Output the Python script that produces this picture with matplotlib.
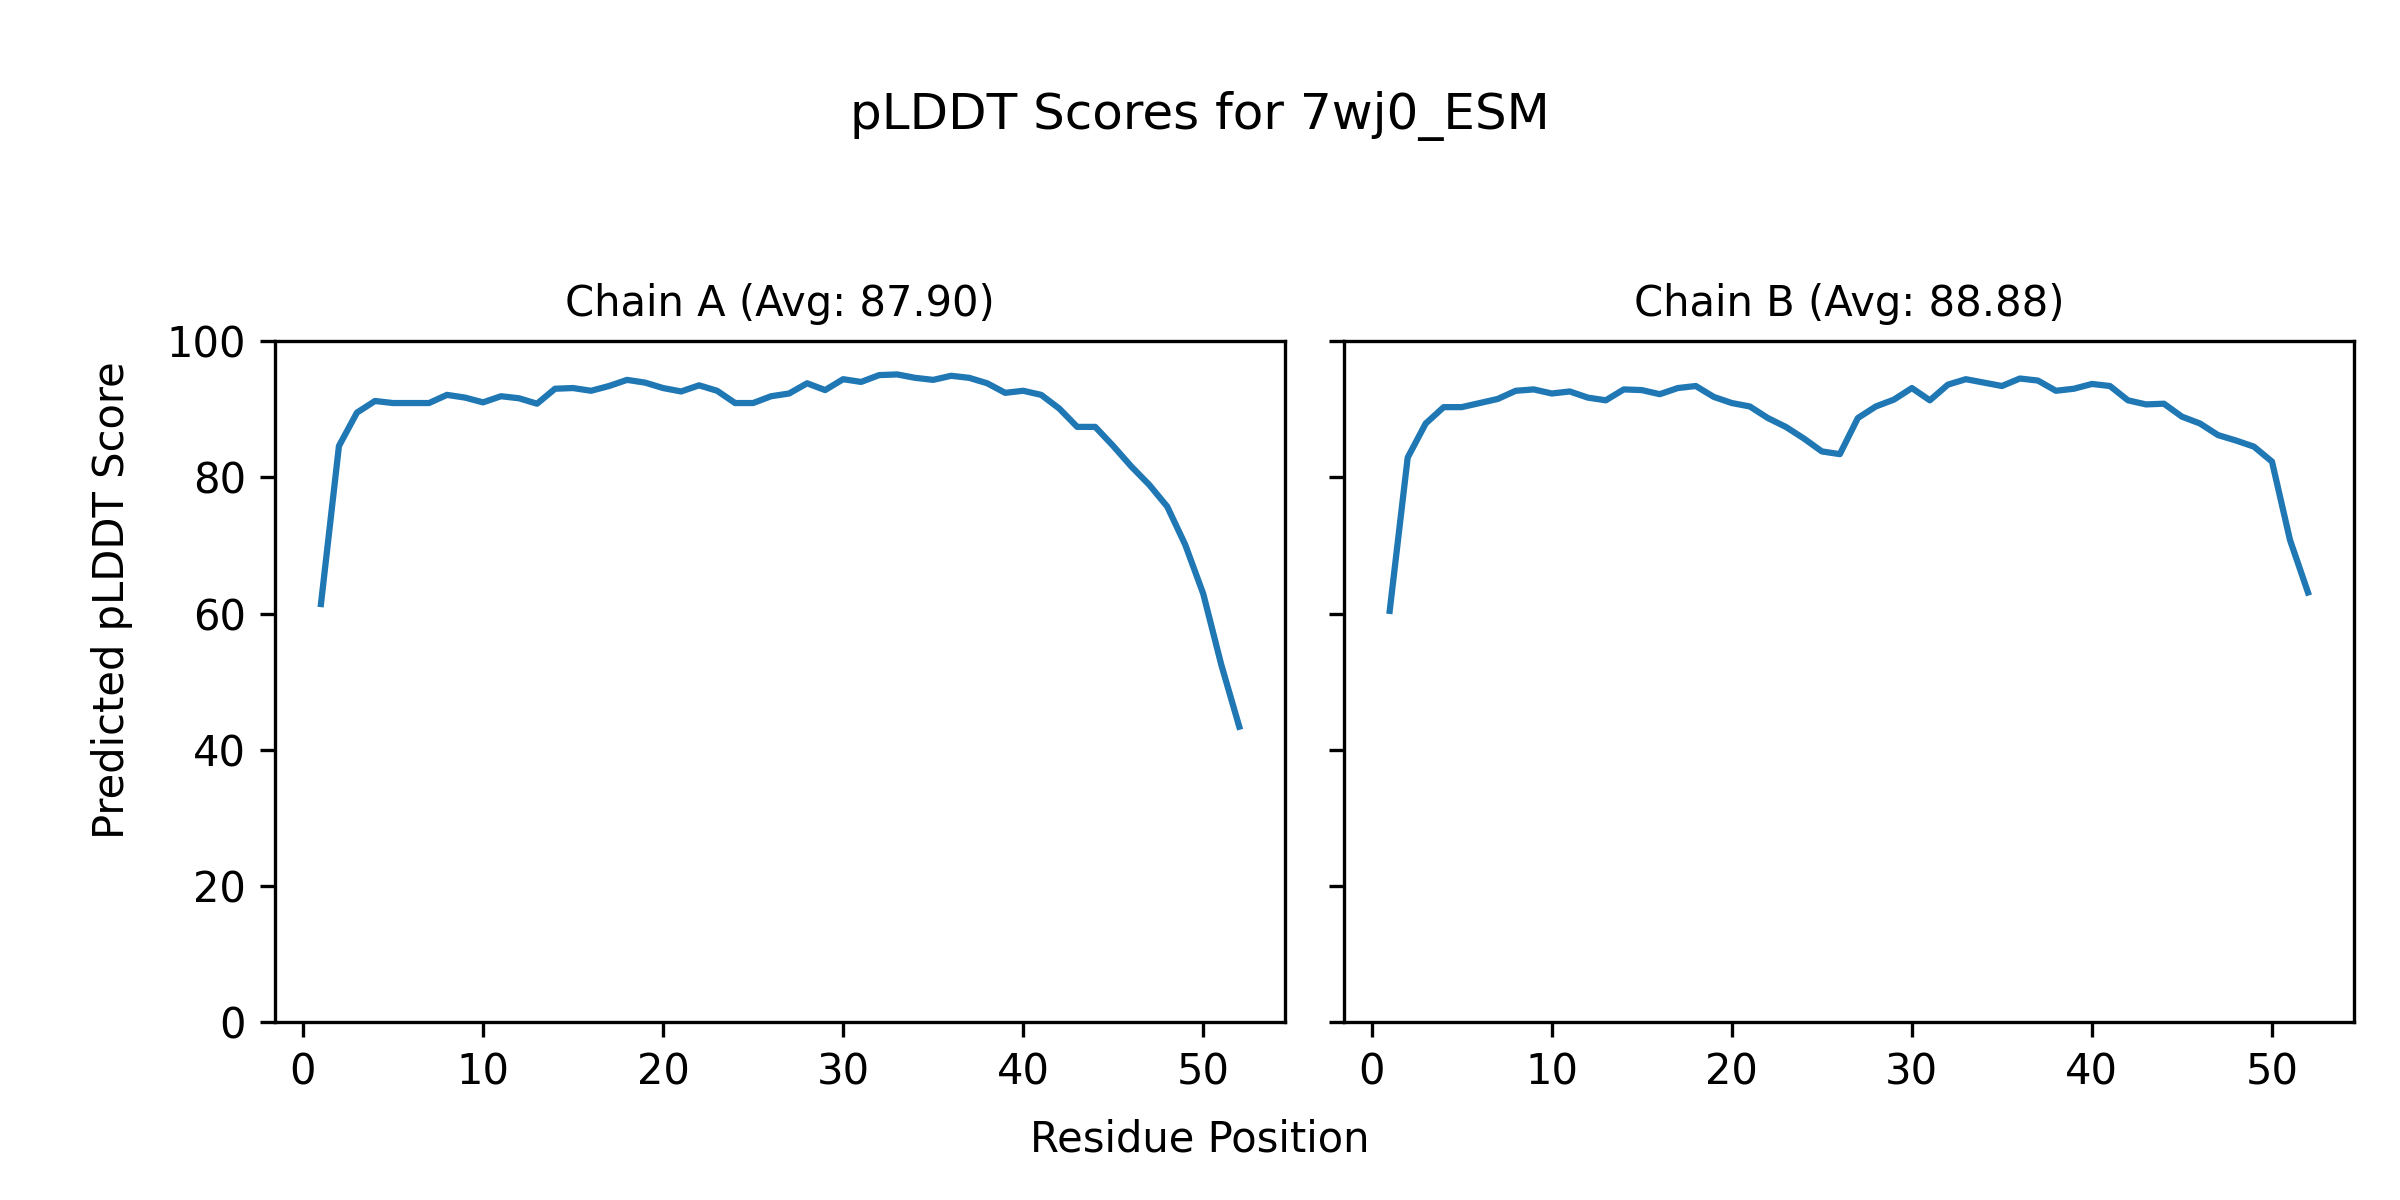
import matplotlib
matplotlib.use("Agg")
import matplotlib.pyplot as plt

# pLDDT per residue
residues = list(range(1, 53))
chain_ids = ["A", "B"]
avg_scores = [87.90, 88.88]

plddt_a = [61.4, 84.6, 89.5, 91.2, 90.9, 90.9, 90.9, 92.1, 91.7, 91.0,
           91.9, 91.6, 90.8, 93.0, 93.1, 92.7, 93.4, 94.3, 93.9, 93.1,
           92.6, 93.5, 92.7, 90.9, 90.9, 91.9, 92.3, 93.8, 92.8, 94.4,
           94.0, 95.0, 95.1, 94.6, 94.3, 94.9, 94.6, 93.8, 92.4, 92.7,
           92.1, 90.1, 87.4, 87.4, 84.6, 81.6, 78.9, 75.7, 70.1, 62.9,
           52.5, 43.4]

plddt_b = [60.4, 82.9, 87.9, 90.3, 90.3, 90.9, 91.5, 92.7, 92.9, 92.3,
           92.6, 91.7, 91.3, 92.9, 92.8, 92.2, 93.1, 93.4, 91.8, 90.9,
           90.4, 88.7, 87.4, 85.7, 83.8, 83.4, 88.7, 90.4, 91.4, 93.1,
           91.3, 93.6, 94.4, 93.9, 93.4, 94.5, 94.2, 92.7, 93.0, 93.7,
           93.4, 91.3, 90.7, 90.8, 88.9, 87.9, 86.2, 85.4, 84.5, 82.3,
           70.8, 63.1]

scores = [plddt_a, plddt_b]

fig, axes = plt.subplots(1, 2, figsize=(8, 4), dpi=300, sharey=True)
fig.subplots_adjust(left=0.1146, right=0.9808, top=0.7158, bottom=0.148, wspace=0.058)

for ax, cid, avg, vals in zip(axes, chain_ids, avg_scores, scores):
    ax.plot(residues, vals, color="tab:blue", linewidth=1.5)
    ax.set_title(f"Chain {cid} (Avg: {avg:.2f})", fontsize=10)
    ax.set_ylim(0, 100)

fig.suptitle("pLDDT Scores for 7wj0_ESM", fontsize=12, y=0.903, va="center")
fig.text(0.5, 0.05, "Residue Position", ha="center", va="center", fontsize=10)
fig.text(0.0467, 0.5, "Predicted pLDDT Score", ha="center", va="center",
         rotation=90, fontsize=10)

fig.savefig("out.png", dpi=300)
